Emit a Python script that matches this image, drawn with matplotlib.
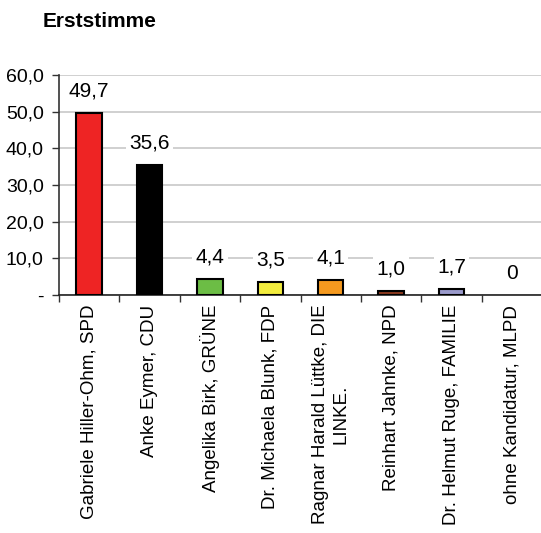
import matplotlib
matplotlib.use("Agg")
import matplotlib.pyplot as plt

plt.rcParams['font.family'] = ['Liberation Sans', 'DejaVu Sans']

categories = ["Gabriele Hiller-Ohm, SPD", "Anke Eymer, CDU", "Angelika Birk, GRÜNE",
              "Dr. Michaela Blunk, FDP", "Ragnar Harald Lüttke, DIE\nLINKE.",
              "Reinhart Jahnke, NPD", "Dr. Helmut Ruge, FAMILIE", "ohne Kandidatur, MLPD"]
values = [49.7, 35.6, 4.4, 3.5, 4.1, 1.0, 1.7, 0]
value_labels = ["49,7", "35,6", "4,4", "3,5", "4,1", "1,0", "1,7", "0"]
colors = ["#EE2424", "#000000", "#6CBD45", "#F2EC3E", "#F4991F", "#8B3A1F", "#9A9ACB", "#FFFFFF"]
yticks = [0, 10, 20, 30, 40, 50, 60]
ytick_labels = ["-", "10,0", "20,0", "30,0", "40,0", "50,0", "60,0"]

fig = plt.figure(figsize=(5.41, 5.33), dpi=100)
ax = fig.add_axes([0.109, 0.4465, 0.893, 0.4125])

x = list(range(len(categories)))
lws = [1.5 if v > 0 else 0 for v in values]
ax.bar(x, values, width=0.42, color=colors, edgecolor="black", linewidth=lws, zorder=3)

for xi, v, lab in zip(x, values, value_labels):
    ax.annotate(lab, (xi, v), xytext=(0, 9), textcoords="offset points",
                ha="center", va="bottom", fontsize=15, zorder=4,
                bbox=dict(boxstyle="square,pad=0.15", fc="white", ec="none"))

ax.set_xlim(-0.5, len(categories) - 0.5)
ax.set_ylim(0, 60)
ax.set_yticks(yticks)
ax.set_yticklabels(ytick_labels, fontsize=14)
ax.yaxis.grid(True, color="#C8C8C8", linewidth=1.2, zorder=0)
ax.set_axisbelow(True)

ax.set_xticks([i + 0.5 for i in range(-1, len(categories) - 1)], minor=False)
ax.set_xticklabels([])
ax.set_xticks(x, minor=True)
ax.set_xticklabels(categories, minor=True, rotation=90, fontsize=13.5, ha="center", va="top",
                   multialignment="center")
ax.tick_params(axis="x", which="minor", length=0, pad=7)
ax.tick_params(axis="x", which="major", length=5, width=1, color="#333333", direction="out")
ax.tick_params(axis="y", length=5, width=1, color="#333333", pad=6)

for s in ["top", "right"]:
    ax.spines[s].set_visible(False)
ax.spines["left"].set_color("#333333")
ax.spines["bottom"].set_color("#222222")
ax.spines["left"].set_linewidth(1.2)
ax.spines["bottom"].set_linewidth(1.2)

fig.text(0.078, 0.96, "Erststimme", fontsize=15, fontweight="bold", ha="left", va="center")

fig.savefig("out.png", dpi=100)
